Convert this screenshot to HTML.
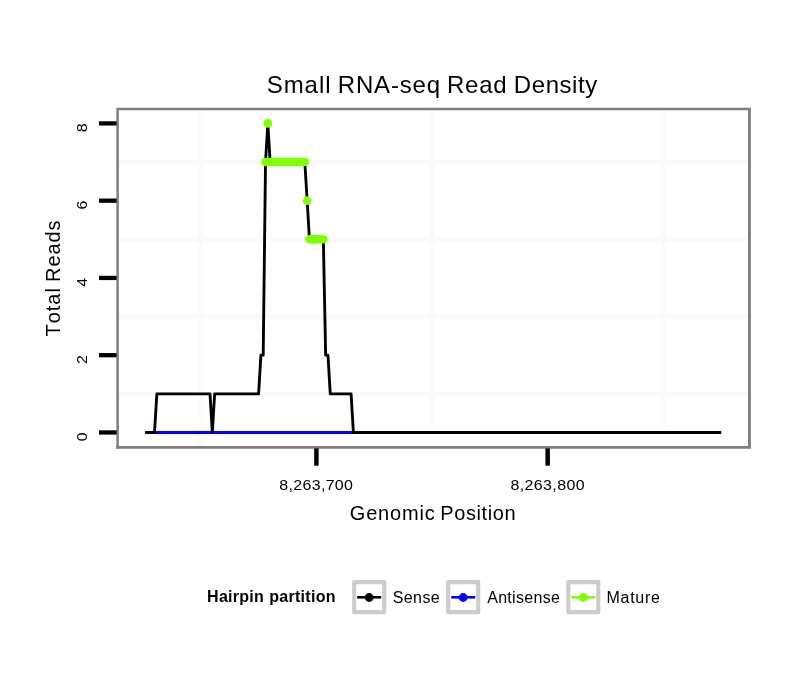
<!DOCTYPE html>
<html><head><meta charset="utf-8"><title>Small RNA-seq Read Density</title>
<style>html,body{margin:0;padding:0;background:#fff}svg text{font-family:"Liberation Sans",Arial,Helvetica,sans-serif;fill:#000;font-kerning:none;white-space:pre}</style></head>
<body>
<svg width="810" height="690" viewBox="0 0 810 690" style="display:block">
<rect width="810" height="690" fill="#fff"/>
<line x1="200.77" x2="200.77" y1="109.0" y2="447.4" stroke="#fafafa" stroke-width="4.4"/>
<line x1="432.02" x2="432.02" y1="109.0" y2="447.4" stroke="#fafafa" stroke-width="4.4"/>
<line x1="663.27" x2="663.27" y1="109.0" y2="447.4" stroke="#fafafa" stroke-width="4.4"/>
<line x1="117.7" x2="749.3" y1="393.82" y2="393.82" stroke="#fafafa" stroke-width="4.4"/>
<line x1="117.7" x2="749.3" y1="316.56" y2="316.56" stroke="#fafafa" stroke-width="4.4"/>
<line x1="117.7" x2="749.3" y1="239.30" y2="239.30" stroke="#fafafa" stroke-width="4.4"/>
<line x1="117.7" x2="749.3" y1="162.04" y2="162.04" stroke="#fafafa" stroke-width="4.4"/>
<line x1="145.27" x2="721.09" y1="432.45" y2="432.45" stroke="#0000ff" stroke-width="2.85"/>
<polyline points="145.27,432.45 154.52,432.45 156.84,393.82 210.02,393.82 212.34,432.45 214.65,393.82 258.59,393.82 260.90,355.19 263.21,355.19 265.52,162.04 267.84,123.41 270.15,162.04 304.84,162.04 307.15,200.67 309.46,239.30 323.34,239.30 325.65,355.19 327.96,355.19 330.27,393.82 351.09,393.82 353.40,432.45 721.09,432.45" fill="none" stroke="#000" stroke-width="2.85" stroke-linejoin="round"/>
<g fill="#7fff00"><circle cx="265.52" cy="162.04" r="4.3"/><circle cx="267.84" cy="123.41" r="4.3"/><circle cx="270.15" cy="162.04" r="4.3"/><circle cx="272.46" cy="162.04" r="4.3"/><circle cx="274.77" cy="162.04" r="4.3"/><circle cx="277.09" cy="162.04" r="4.3"/><circle cx="279.40" cy="162.04" r="4.3"/><circle cx="281.71" cy="162.04" r="4.3"/><circle cx="284.02" cy="162.04" r="4.3"/><circle cx="286.34" cy="162.04" r="4.3"/><circle cx="288.65" cy="162.04" r="4.3"/><circle cx="290.96" cy="162.04" r="4.3"/><circle cx="293.27" cy="162.04" r="4.3"/><circle cx="295.59" cy="162.04" r="4.3"/><circle cx="297.90" cy="162.04" r="4.3"/><circle cx="300.21" cy="162.04" r="4.3"/><circle cx="302.52" cy="162.04" r="4.3"/><circle cx="304.84" cy="162.04" r="4.3"/><circle cx="307.15" cy="200.67" r="4.3"/><circle cx="309.46" cy="239.30" r="4.3"/><circle cx="311.77" cy="239.30" r="4.3"/><circle cx="314.09" cy="239.30" r="4.3"/><circle cx="316.40" cy="239.30" r="4.3"/><circle cx="318.71" cy="239.30" r="4.3"/><circle cx="321.02" cy="239.30" r="4.3"/><circle cx="323.34" cy="239.30" r="4.3"/></g>
<path d="M117.6,448.8V109H750.9" fill="none" stroke="#7f7f7f" stroke-width="2.5"/>
<path d="M749.45,108.0V447.4H116.35" fill="none" stroke="#7f7f7f" stroke-width="2.9"/>
<line x1="99" x2="116.6" y1="432.45" y2="432.45" stroke="#000" stroke-width="4.3"/>
<text transform="translate(87.1,432.45) rotate(-90) scale(1,0.955)" text-anchor="end" font-size="16">0</text>
<line x1="99" x2="116.6" y1="355.19" y2="355.19" stroke="#000" stroke-width="4.3"/>
<text transform="translate(87.1,355.19) rotate(-90) scale(1,0.955)" text-anchor="end" font-size="16">2</text>
<line x1="99" x2="116.6" y1="277.93" y2="277.93" stroke="#000" stroke-width="4.3"/>
<text transform="translate(87.1,277.93) rotate(-90) scale(1,0.955)" text-anchor="end" font-size="16">4</text>
<line x1="99" x2="116.6" y1="200.67" y2="200.67" stroke="#000" stroke-width="4.3"/>
<text transform="translate(87.1,200.67) rotate(-90) scale(1,0.955)" text-anchor="end" font-size="16">6</text>
<line x1="99" x2="116.6" y1="123.41" y2="123.41" stroke="#000" stroke-width="4.3"/>
<text transform="translate(87.1,123.41) rotate(-90) scale(1,0.955)" text-anchor="end" font-size="16">8</text>
<line x1="316.40" x2="316.40" y1="448.4" y2="465.7" stroke="#000" stroke-width="4.5"/>
<text transform="translate(0.3,489.9) scale(1,0.955)" y="0" font-size="16"><tspan x="278.95" style="letter-spacing:0.331px">8,263,700</tspan></text>
<line x1="547.65" x2="547.65" y1="448.4" y2="465.7" stroke="#000" stroke-width="4.5"/>
<text transform="translate(0.3,489.9) scale(1,0.955)" y="0" font-size="16"><tspan x="510.15" style="letter-spacing:0.381px">8,263,800</tspan></text>
<text y="92.6" font-size="24"><tspan x="266.65" style="letter-spacing:0.988px">Small</tspan> <tspan x="337.80" style="letter-spacing:0.808px">RNA-seq</tspan> <tspan x="447.00" style="letter-spacing:0.750px">Read</tspan> <tspan x="513.80" style="letter-spacing:0.575px">Density</tspan></text>
<text y="519.6" font-size="20"><tspan x="349.80" style="letter-spacing:0.800px">Genomic</tspan> <tspan x="440.25" style="letter-spacing:0.586px">Position</tspan></text>
<text transform="translate(60.1,336.0) rotate(-90)" y="0" font-size="20"><tspan x="-0.50" style="letter-spacing:0.975px">Total</tspan> <tspan x="54.05" style="letter-spacing:0.912px">Reads</tspan></text>
<text y="602.4" font-size="16" font-weight="bold"><tspan x="207.10" style="letter-spacing:0.275px">Hairpin</tspan> <tspan x="269.20" style="letter-spacing:0.300px">partition</tspan></text>
<rect x="354.2" y="582.15" width="30" height="30" fill="#fff" stroke="#ccc" stroke-width="4.1" stroke-linejoin="round"/>
<line x1="357.2" x2="381.2" y1="597.3" y2="597.3" stroke="#000" stroke-width="2.6"/>
<circle cx="369.2" cy="597.5" r="4.4" fill="#000"/>
<text y="602.5" font-size="16"><tspan x="392.75" style="letter-spacing:0.400px">Sense</tspan></text>
<rect x="448.2" y="582.15" width="30" height="30" fill="#fff" stroke="#ccc" stroke-width="4.1" stroke-linejoin="round"/>
<line x1="451.2" x2="475.2" y1="597.3" y2="597.3" stroke="#0000ff" stroke-width="2.6"/>
<circle cx="463.2" cy="597.5" r="4.4" fill="#0000ff"/>
<text y="602.5" font-size="16"><tspan x="487.20" style="letter-spacing:0.300px">Antisense</tspan></text>
<rect x="568.3" y="582.15" width="30" height="30" fill="#fff" stroke="#ccc" stroke-width="4.1" stroke-linejoin="round"/>
<line x1="571.3" x2="595.3" y1="597.3" y2="597.3" stroke="#7fff00" stroke-width="2.6"/>
<circle cx="583.3" cy="597.5" r="4.4" fill="#7fff00"/>
<text y="602.5" font-size="16"><tspan x="606.55" style="letter-spacing:0.710px">Mature</tspan></text>
</svg>
</body></html>
